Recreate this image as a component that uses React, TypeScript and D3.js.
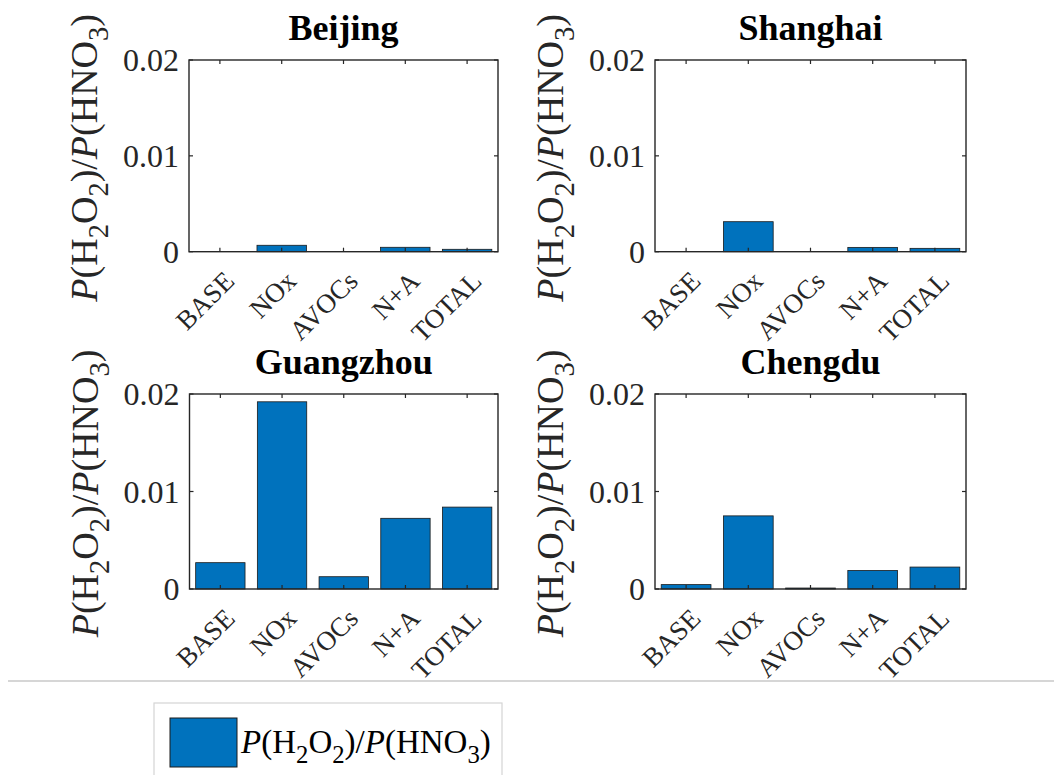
import React from "react";
import * as d3 from "d3";

const categories = ["BASE", "NOx", "AVOCs", "N+A", "TOTAL"];
const cities = ["Beijing", "Shanghai", "Guangzhou", "Chengdu"];
const beijing = [0, 0.00067, 0, 0.00046, 0.00025];
const shanghai = [0, 0.00313, 0, 0.00045, 0.00035];
const guangzhou = [0.0027, 0.0192, 0.00126, 0.00725, 0.0084];
const chengdu = [0.00045, 0.0075, 0.0001, 0.0019, 0.00225];
const yTicks = [0, 0.01, 0.02];
const yTickLabels = ["0", "0.01", "0.02"];
const seriesLabel = "P(H2O2)/P(HNO3)";

const seriesValues = [beijing, shanghai, guangzhou, chengdu];

const FONT = "'Liberation Serif', 'Times New Roman', serif";
const BAR = "#0072BD";
const AX = "#262626";

const panels = [
  { x0: 189, x1: 498, y0: 60, y1: 251.7 },
  { x0: 655, x1: 966, y0: 60, y1: 251.7 },
  { x0: 189.5, x1: 498, y0: 394, y1: 589 },
  { x0: 655, x1: 966, y0: 394, y1: 589 },
];

function Formula({ size }: { size: number }) {
  const s = size * 0.3;
  return (
    <>
      <tspan fontStyle="italic">P</tspan>
      <tspan>(H</tspan>
      <tspan dy={s} fontSize={size * 0.75}>2</tspan>
      <tspan dy={-s}>O</tspan>
      <tspan dy={s} fontSize={size * 0.75}>2</tspan>
      <tspan dy={-s}>)/</tspan>
      <tspan fontStyle="italic">P</tspan>
      <tspan>(HNO</tspan>
      <tspan dy={s} fontSize={size * 0.75}>3</tspan>
      <tspan dy={-s}>)</tspan>
    </>
  );
}

function Panel({ idx }: { idx: number }) {
  const p = panels[idx];
  const vals = seriesValues[idx];
  const x = d3.scaleBand<string>().domain(categories).range([p.x0, p.x1]).paddingInner(0.2).paddingOuter(0.1);
  const y = d3.scaleLinear().domain([0, 0.02]).range([p.y1, p.y0]);
  const step = x.step();
  const centers = categories.map((c) => (x(c) as number) + x.bandwidth() / 2);
  const labSize = 38;
  const cy = (p.y0 + p.y1) / 2 + 2;
  return (
    <g>
      <text x={(p.x0 + p.x1) / 2} y={p.y0 - 20} textAnchor="middle" fontFamily={FONT} fontWeight="bold" fontSize={36} fill="#000">
        {cities[idx]}
      </text>
      {vals.map((v, i) => (
        <rect key={i} x={x(categories[i])} y={y(v)} width={x.bandwidth()} height={Math.max(0, y(0) - y(v))}
          fill={BAR} stroke="#1a1a1a" strokeWidth={0.8} />
      ))}
      <rect x={p.x0} y={p.y0} width={p.x1 - p.x0} height={p.y1 - p.y0} fill="none" stroke={AX} strokeWidth={1.4} />
      {centers.map((c, i) => (
        <g key={i}>
          <line x1={c} x2={c} y1={p.y1} y2={p.y1 - 4} stroke={AX} strokeWidth={1.2} />
          <line x1={c} x2={c} y1={p.y0} y2={p.y0 + 4} stroke={AX} strokeWidth={1.2} />
          <text transform={`translate(${c + 16},${p.y1 + 31}) rotate(-45)`} textAnchor="end" fontFamily={FONT} fontSize={27} fill="#262626">
            {categories[i]}
          </text>
        </g>
      ))}
      {yTicks.map((t, i) => (
        <g key={i}>
          <line x1={p.x0} x2={p.x0 + 4} y1={y(t)} y2={y(t)} stroke={AX} strokeWidth={1.2} />
          <line x1={p.x1} x2={p.x1 - 4} y1={y(t)} y2={y(t)} stroke={AX} strokeWidth={1.2} />
          <text x={p.x0 - 10} y={y(t)} dy="0.35em" textAnchor="end" fontFamily={FONT} fontSize={32} fill="#262626">
            {yTickLabels[i]}
          </text>
        </g>
      ))}
      <text transform={`translate(${p.x0 - 92},${cy}) rotate(-90)`} textAnchor="middle" fontFamily={FONT} fontSize={labSize} fill="#262626">
        <Formula size={labSize} />
      </text>
      {step > 0 ? null : null}
    </g>
  );
}

export default function App() {
  return (
    <div style={{ position: "absolute", left: 0, top: 0 }}>
      <svg width={1054} height={775} style={{ display: "block", background: "#fff" }}>
        <rect x={0} y={0} width={1054} height={775} fill="#fff" />
        {panels.map((_, i) => (
          <Panel key={i} idx={i} />
        ))}
        <line x1={8} x2={1054} y1={681} y2={681} stroke="#c8c8c8" strokeWidth={1.5} />
        <rect x={154} y={703} width={348} height={100} fill="#fff" stroke="#d4d4d4" strokeWidth={1.2} />
        <rect x={170} y={718} width={67} height={49} fill={BAR} stroke="#1a1a1a" strokeWidth={1} />
        <text x={241} y={753} fontFamily={FONT} fontSize={33} fill="#000" aria-label={seriesLabel}>
          <Formula size={33} />
        </text>
      </svg>
    </div>
  );
}
